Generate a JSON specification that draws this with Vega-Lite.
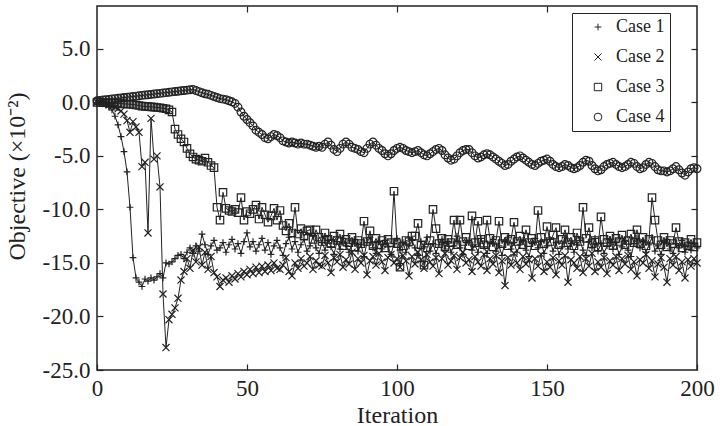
{
"$schema": "https://vega.github.io/schema/vega-lite/v6.json",
"width": 600, "height": 364,
"autosize": {"type": "none"},
"padding": {"left": 97, "top": 6, "right": 23, "bottom": 56},
"background": "white",
"config": {"view": {"stroke": "#222", "strokeWidth": 1.5}, "font": "Liberation Serif"},
"data": {"values": [
{"i":0,"Case 1":0,"Case 2":0,"Case 3":0,"Case 4":0.15},
{"i":1,"Case 1":-0.03,"Case 2":-0.02,"Case 3":0,"Case 4":0.18},
{"i":2,"Case 1":-0.1,"Case 2":-0.05,"Case 3":-0.02,"Case 4":0.22},
{"i":3,"Case 1":-0.25,"Case 2":-0.1,"Case 3":-0.03,"Case 4":0.25},
{"i":4,"Case 1":-0.45,"Case 2":-0.2,"Case 3":-0.05,"Case 4":0.28},
{"i":5,"Case 1":-0.7,"Case 2":-0.3,"Case 3":-0.07,"Case 4":0.31},
{"i":6,"Case 1":-1.3,"Case 2":-0.45,"Case 3":-0.08,"Case 4":0.35},
{"i":7,"Case 1":-2.1,"Case 2":-0.6,"Case 3":-0.1,"Case 4":0.38},
{"i":8,"Case 1":-3.2,"Case 2":-0.8,"Case 3":-0.12,"Case 4":0.41},
{"i":9,"Case 1":-4.6,"Case 2":-1.1,"Case 3":-0.14,"Case 4":0.45},
{"i":10,"Case 1":-6.5,"Case 2":-1.7,"Case 3":-0.16,"Case 4":0.48},
{"i":11,"Case 1":-9.8,"Case 2":-2.8,"Case 3":-0.18,"Case 4":0.51},
{"i":12,"Case 1":-14.5,"Case 2":-1.8,"Case 3":-0.2,"Case 4":0.55},
{"i":13,"Case 1":-16.4,"Case 2":-2.3,"Case 3":-0.25,"Case 4":0.58},
{"i":14,"Case 1":-16.8,"Case 2":-2.8,"Case 3":-0.3,"Case 4":0.61},
{"i":15,"Case 1":-17.2,"Case 2":-6.0,"Case 3":-0.35,"Case 4":0.65},
{"i":16,"Case 1":-16.5,"Case 2":-5.6,"Case 3":-0.38,"Case 4":0.68},
{"i":17,"Case 1":-16.7,"Case 2":-12.2,"Case 3":-0.4,"Case 4":0.71},
{"i":18,"Case 1":-16.4,"Case 2":-1.5,"Case 3":-0.42,"Case 4":0.74},
{"i":19,"Case 1":-16.6,"Case 2":-5.3,"Case 3":-0.45,"Case 4":0.78},
{"i":20,"Case 1":-16.3,"Case 2":-5.0,"Case 3":-0.48,"Case 4":0.81},
{"i":21,"Case 1":-16.0,"Case 2":-7.9,"Case 3":-0.5,"Case 4":0.84},
{"i":22,"Case 1":-16.4,"Case 2":-17.9,"Case 3":-0.55,"Case 4":0.88},
{"i":23,"Case 1":-15.0,"Case 2":-22.9,"Case 3":-0.6,"Case 4":0.91},
{"i":24,"Case 1":-15.1,"Case 2":-20.3,"Case 3":-0.7,"Case 4":0.94},
{"i":25,"Case 1":-14.9,"Case 2":-19.8,"Case 3":-0.9,"Case 4":0.98},
{"i":26,"Case 1":-14.6,"Case 2":-19.2,"Case 3":-2.5,"Case 4":1.01},
{"i":27,"Case 1":-14.3,"Case 2":-18.3,"Case 3":-3.0,"Case 4":1.04},
{"i":28,"Case 1":-14.2,"Case 2":-16.6,"Case 3":-3.4,"Case 4":1.08},
{"i":29,"Case 1":-14.6,"Case 2":-15.8,"Case 3":-3.7,"Case 4":1.11},
{"i":30,"Case 1":-14.0,"Case 2":-14.6,"Case 3":-4.3,"Case 4":1.14},
{"i":31,"Case 1":-13.6,"Case 2":-15.5,"Case 3":-4.8,"Case 4":1.18},
{"i":32,"Case 1":-14.1,"Case 2":-13.8,"Case 3":-5.1,"Case 4":1.21},
{"i":33,"Case 1":-13.4,"Case 2":-14.9,"Case 3":-5.3,"Case 4":1.1},
{"i":34,"Case 1":-13.9,"Case 2":-13.5,"Case 3":-5.4,"Case 4":1.0},
{"i":35,"Case 1":-12.3,"Case 2":-15.2,"Case 3":-5.5,"Case 4":0.9},
{"i":36,"Case 1":-13.3,"Case 2":-14.0,"Case 3":-5.2,"Case 4":0.8},
{"i":37,"Case 1":-14.2,"Case 2":-15.6,"Case 3":-5.6,"Case 4":0.75},
{"i":38,"Case 1":-13.4,"Case 2":-14.4,"Case 3":-5.9,"Case 4":0.65},
{"i":39,"Case 1":-12.9,"Case 2":-15.9,"Case 3":-6.1,"Case 4":0.55},
{"i":40,"Case 1":-13.8,"Case 2":-16.3,"Case 3":-9.8,"Case 4":0.45},
{"i":41,"Case 1":-13.6,"Case 2":-17.2,"Case 3":-11.0,"Case 4":0.35},
{"i":42,"Case 1":-13.1,"Case 2":-16.6,"Case 3":-8.4,"Case 4":0.3},
{"i":43,"Case 1":-14.0,"Case 2":-16.4,"Case 3":-9.9,"Case 4":0.25},
{"i":44,"Case 1":-13.3,"Case 2":-16.8,"Case 3":-10.1,"Case 4":0.15},
{"i":45,"Case 1":-12.8,"Case 2":-16.2,"Case 3":-10.2,"Case 4":0.05},
{"i":46,"Case 1":-13.7,"Case 2":-16.5,"Case 3":-10.0,"Case 4":-0.1},
{"i":47,"Case 1":-13.2,"Case 2":-16.0,"Case 3":-10.3,"Case 4":-0.45},
{"i":48,"Case 1":-14.1,"Case 2":-16.3,"Case 3":-8.9,"Case 4":-0.9},
{"i":49,"Case 1":-13.0,"Case 2":-15.8,"Case 3":-11.0,"Case 4":-1.3},
{"i":50,"Case 1":-12.2,"Case 2":-16.1,"Case 3":-10.2,"Case 4":-1.6},
{"i":51,"Case 1":-13.5,"Case 2":-15.6,"Case 3":-10.4,"Case 4":-1.9},
{"i":52,"Case 1":-13.0,"Case 2":-16.0,"Case 3":-10.0,"Case 4":-2.2},
{"i":53,"Case 1":-13.9,"Case 2":-15.4,"Case 3":-9.6,"Case 4":-2.6},
{"i":54,"Case 1":-13.3,"Case 2":-15.9,"Case 3":-10.9,"Case 4":-2.8},
{"i":55,"Case 1":-12.7,"Case 2":-15.3,"Case 3":-9.8,"Case 4":-3.0},
{"i":56,"Case 1":-13.8,"Case 2":-15.8,"Case 3":-10.5,"Case 4":-3.3},
{"i":57,"Case 1":-13.1,"Case 2":-15.2,"Case 3":-11.2,"Case 4":-3.4},
{"i":58,"Case 1":-14.2,"Case 2":-15.7,"Case 3":-10.6,"Case 4":-3.2},
{"i":59,"Case 1":-13.4,"Case 2":-15.0,"Case 3":-9.9,"Case 4":-3.0},
{"i":60,"Case 1":-12.9,"Case 2":-15.5,"Case 3":-11.0,"Case 4":-3.1},
{"i":61,"Case 1":-13.6,"Case 2":-15.6,"Case 3":-10.1,"Case 4":-3.3},
{"i":62,"Case 1":-14.3,"Case 2":-15.2,"Case 3":-11.5,"Case 4":-3.6},
{"i":63,"Case 1":-13.2,"Case 2":-14.5,"Case 3":-12.0,"Case 4":-3.7},
{"i":64,"Case 1":-12.6,"Case 2":-15.8,"Case 3":-11.3,"Case 4":-3.8},
{"i":65,"Case 1":-13.7,"Case 2":-16.2,"Case 3":-12.2,"Case 4":-3.7},
{"i":66,"Case 1":-13.0,"Case 2":-15.0,"Case 3":-9.8,"Case 4":-3.8},
{"i":67,"Case 1":-14.0,"Case 2":-15.5,"Case 3":-12.3,"Case 4":-3.9},
{"i":68,"Case 1":-13.3,"Case 2":-14.6,"Case 3":-11.8,"Case 4":-3.8},
{"i":69,"Case 1":-12.8,"Case 2":-15.3,"Case 3":-12.5,"Case 4":-3.9},
{"i":70,"Case 1":-13.9,"Case 2":-15.0,"Case 3":-12.0,"Case 4":-3.9},
{"i":71,"Case 1":-13.4,"Case 2":-14.4,"Case 3":-11.9,"Case 4":-4.0},
{"i":72,"Case 1":-12.5,"Case 2":-15.6,"Case 3":-12.8,"Case 4":-4.1},
{"i":73,"Case 1":-13.6,"Case 2":-14.8,"Case 3":-11.9,"Case 4":-4.2},
{"i":74,"Case 1":-14.1,"Case 2":-15.2,"Case 3":-12.6,"Case 4":-4.1},
{"i":75,"Case 1":-13.1,"Case 2":-15.3,"Case 3":-13.0,"Case 4":-4.2},
{"i":76,"Case 1":-13.8,"Case 2":-14.3,"Case 3":-12.2,"Case 4":-3.9},
{"i":77,"Case 1":-12.9,"Case 2":-15.0,"Case 3":-12.8,"Case 4":-3.7},
{"i":78,"Case 1":-13.5,"Case 2":-15.9,"Case 3":-13.2,"Case 4":-4.0},
{"i":79,"Case 1":-14.2,"Case 2":-14.5,"Case 3":-12.5,"Case 4":-4.4},
{"i":80,"Case 1":-13.0,"Case 2":-14.9,"Case 3":-12.9,"Case 4":-4.6},
{"i":81,"Case 1":-13.7,"Case 2":-14.2,"Case 3":-12.3,"Case 4":-4.3},
{"i":82,"Case 1":-12.7,"Case 2":-15.4,"Case 3":-13.4,"Case 4":-3.9},
{"i":83,"Case 1":-13.4,"Case 2":-14.7,"Case 3":-12.8,"Case 4":-3.7},
{"i":84,"Case 1":-14.0,"Case 2":-15.1,"Case 3":-13.1,"Case 4":-3.9},
{"i":85,"Case 1":-13.2,"Case 2":-14.0,"Case 3":-12.6,"Case 4":-4.2},
{"i":86,"Case 1":-12.8,"Case 2":-15.6,"Case 3":-13.5,"Case 4":-4.3},
{"i":87,"Case 1":-13.9,"Case 2":-14.6,"Case 3":-12.9,"Case 4":-4.4},
{"i":88,"Case 1":-13.3,"Case 2":-15.0,"Case 3":-13.2,"Case 4":-4.6},
{"i":89,"Case 1":-14.4,"Case 2":-14.3,"Case 3":-11.1,"Case 4":-4.7},
{"i":90,"Case 1":-13.1,"Case 2":-16.1,"Case 3":-13.0,"Case 4":-4.3},
{"i":91,"Case 1":-12.6,"Case 2":-14.8,"Case 3":-12.0,"Case 4":-3.9},
{"i":92,"Case 1":-13.6,"Case 2":-14.4,"Case 3":-13.4,"Case 4":-3.7},
{"i":93,"Case 1":-14.1,"Case 2":-15.2,"Case 3":-12.7,"Case 4":-4.0},
{"i":94,"Case 1":-13.0,"Case 2":-14.1,"Case 3":-13.3,"Case 4":-4.3},
{"i":95,"Case 1":-13.7,"Case 2":-14.9,"Case 3":-12.9,"Case 4":-4.5},
{"i":96,"Case 1":-12.9,"Case 2":-15.7,"Case 3":-13.6,"Case 4":-4.8},
{"i":97,"Case 1":-13.5,"Case 2":-14.5,"Case 3":-12.8,"Case 4":-5.0},
{"i":98,"Case 1":-14.2,"Case 2":-14.2,"Case 3":-13.1,"Case 4":-4.8},
{"i":99,"Case 1":-13.2,"Case 2":-15.0,"Case 3":-8.3,"Case 4":-4.5},
{"i":100,"Case 1":-12.7,"Case 2":-14.6,"Case 3":-13.2,"Case 4":-4.3},
{"i":101,"Case 1":-13.8,"Case 2":-15.4,"Case 3":-15.4,"Case 4":-4.2},
{"i":102,"Case 1":-13.1,"Case 2":-14.3,"Case 3":-13.4,"Case 4":-4.3},
{"i":103,"Case 1":-14.0,"Case 2":-14.8,"Case 3":-12.9,"Case 4":-4.5},
{"i":104,"Case 1":-13.4,"Case 2":-16.2,"Case 3":-13.0,"Case 4":-4.6},
{"i":105,"Case 1":-12.9,"Case 2":-14.4,"Case 3":-12.5,"Case 4":-4.7},
{"i":106,"Case 1":-13.6,"Case 2":-15.1,"Case 3":-12.5,"Case 4":-4.6},
{"i":107,"Case 1":-14.3,"Case 2":-14.0,"Case 3":-11.3,"Case 4":-4.5},
{"i":108,"Case 1":-13.0,"Case 2":-14.7,"Case 3":-13.3,"Case 4":-4.7},
{"i":109,"Case 1":-13.5,"Case 2":-15.5,"Case 3":-15.2,"Case 4":-4.9},
{"i":110,"Case 1":-12.6,"Case 2":-14.2,"Case 3":-13.6,"Case 4":-5.0},
{"i":111,"Case 1":-13.9,"Case 2":-14.9,"Case 3":-12.9,"Case 4":-4.8},
{"i":112,"Case 1":-13.2,"Case 2":-15.3,"Case 3":-10.0,"Case 4":-4.6},
{"i":113,"Case 1":-14.1,"Case 2":-14.5,"Case 3":-11.8,"Case 4":-4.4},
{"i":114,"Case 1":-13.3,"Case 2":-16.0,"Case 3":-13.2,"Case 4":-4.3},
{"i":115,"Case 1":-12.8,"Case 2":-14.6,"Case 3":-12.7,"Case 4":-4.5},
{"i":116,"Case 1":-13.7,"Case 2":-14.1,"Case 3":-13.5,"Case 4":-4.9},
{"i":117,"Case 1":-13.0,"Case 2":-15.2,"Case 3":-12.8,"Case 4":-5.2},
{"i":118,"Case 1":-14.0,"Case 2":-14.8,"Case 3":-13.1,"Case 4":-5.4},
{"i":119,"Case 1":-13.4,"Case 2":-14.3,"Case 3":-11.0,"Case 4":-5.3},
{"i":120,"Case 1":-12.5,"Case 2":-15.6,"Case 3":-13.3,"Case 4":-5.0},
{"i":121,"Case 1":-13.6,"Case 2":-14.5,"Case 3":-11.0,"Case 4":-4.7},
{"i":122,"Case 1":-14.2,"Case 2":-14.0,"Case 3":-13.0,"Case 4":-4.5},
{"i":123,"Case 1":-13.1,"Case 2":-15.0,"Case 3":-12.6,"Case 4":-4.4},
{"i":124,"Case 1":-12.9,"Case 2":-14.7,"Case 3":-13.4,"Case 4":-4.4},
{"i":125,"Case 1":-13.8,"Case 2":-15.8,"Case 3":-10.6,"Case 4":-4.7},
{"i":126,"Case 1":-13.3,"Case 2":-14.4,"Case 3":-13.1,"Case 4":-5.0},
{"i":127,"Case 1":-14.0,"Case 2":-14.9,"Case 3":-11.1,"Case 4":-5.2},
{"i":128,"Case 1":-12.7,"Case 2":-15.3,"Case 3":-12.8,"Case 4":-5.1},
{"i":129,"Case 1":-13.5,"Case 2":-14.2,"Case 3":-13.3,"Case 4":-4.9},
{"i":130,"Case 1":-14.1,"Case 2":-15.7,"Case 3":-11.0,"Case 4":-4.8},
{"i":131,"Case 1":-13.2,"Case 2":-14.6,"Case 3":-12.7,"Case 4":-4.9},
{"i":132,"Case 1":-12.8,"Case 2":-15.1,"Case 3":-13.5,"Case 4":-5.1},
{"i":133,"Case 1":-13.9,"Case 2":-14.3,"Case 3":-12.9,"Case 4":-5.3},
{"i":134,"Case 1":-13.4,"Case 2":-15.9,"Case 3":-11.1,"Case 4":-5.5},
{"i":135,"Case 1":-14.3,"Case 2":-14.8,"Case 3":-13.2,"Case 4":-5.7},
{"i":136,"Case 1":-13.0,"Case 2":-17.1,"Case 3":-12.6,"Case 4":-5.9},
{"i":137,"Case 1":-12.6,"Case 2":-14.5,"Case 3":-13.4,"Case 4":-5.8},
{"i":138,"Case 1":-13.7,"Case 2":-15.2,"Case 3":-12.8,"Case 4":-5.5},
{"i":139,"Case 1":-13.1,"Case 2":-14.1,"Case 3":-11.2,"Case 4":-5.3},
{"i":140,"Case 1":-14.0,"Case 2":-15.0,"Case 3":-13.0,"Case 4":-5.1},
{"i":141,"Case 1":-13.3,"Case 2":-15.6,"Case 3":-12.5,"Case 4":-5.0},
{"i":142,"Case 1":-12.9,"Case 2":-14.4,"Case 3":-13.3,"Case 4":-5.2},
{"i":143,"Case 1":-13.8,"Case 2":-15.1,"Case 3":-11.9,"Case 4":-5.4},
{"i":144,"Case 1":-14.4,"Case 2":-14.7,"Case 3":-13.1,"Case 4":-5.6},
{"i":145,"Case 1":-13.2,"Case 2":-16.4,"Case 3":-12.7,"Case 4":-5.8},
{"i":146,"Case 1":-12.7,"Case 2":-14.6,"Case 3":-13.4,"Case 4":-5.9},
{"i":147,"Case 1":-13.6,"Case 2":-15.3,"Case 3":-10.1,"Case 4":-5.7},
{"i":148,"Case 1":-13.0,"Case 2":-14.2,"Case 3":-12.6,"Case 4":-5.5},
{"i":149,"Case 1":-14.1,"Case 2":-15.8,"Case 3":-13.2,"Case 4":-5.4},
{"i":150,"Case 1":-13.4,"Case 2":-14.9,"Case 3":-11.6,"Case 4":-5.3},
{"i":151,"Case 1":-12.8,"Case 2":-15.4,"Case 3":-13.0,"Case 4":-5.5},
{"i":152,"Case 1":-13.9,"Case 2":-14.5,"Case 3":-12.4,"Case 4":-5.8},
{"i":153,"Case 1":-13.1,"Case 2":-16.1,"Case 3":-11.7,"Case 4":-6.0},
{"i":154,"Case 1":-14.2,"Case 2":-14.8,"Case 3":-13.3,"Case 4":-6.1},
{"i":155,"Case 1":-13.5,"Case 2":-15.2,"Case 3":-12.8,"Case 4":-6.0},
{"i":156,"Case 1":-12.6,"Case 2":-14.3,"Case 3":-11.9,"Case 4":-5.8},
{"i":157,"Case 1":-13.7,"Case 2":-16.8,"Case 3":-13.1,"Case 4":-5.9},
{"i":158,"Case 1":-13.2,"Case 2":-14.7,"Case 3":-12.6,"Case 4":-6.1},
{"i":159,"Case 1":-14.0,"Case 2":-15.0,"Case 3":-13.4,"Case 4":-6.2},
{"i":160,"Case 1":-13.3,"Case 2":-15.5,"Case 3":-12.2,"Case 4":-6.1},
{"i":161,"Case 1":-12.9,"Case 2":-14.4,"Case 3":-13.0,"Case 4":-5.9},
{"i":162,"Case 1":-13.8,"Case 2":-15.9,"Case 3":-9.8,"Case 4":-5.6},
{"i":163,"Case 1":-14.3,"Case 2":-14.6,"Case 3":-12.7,"Case 4":-5.4},
{"i":164,"Case 1":-13.0,"Case 2":-15.3,"Case 3":-11.7,"Case 4":-5.5},
{"i":165,"Case 1":-13.6,"Case 2":-14.1,"Case 3":-13.2,"Case 4":-5.9},
{"i":166,"Case 1":-12.7,"Case 2":-15.8,"Case 3":-12.9,"Case 4":-6.2},
{"i":167,"Case 1":-13.9,"Case 2":-14.9,"Case 3":-13.5,"Case 4":-6.4},
{"i":168,"Case 1":-13.2,"Case 2":-15.4,"Case 3":-10.7,"Case 4":-6.3},
{"i":169,"Case 1":-14.1,"Case 2":-14.5,"Case 3":-12.8,"Case 4":-6.0},
{"i":170,"Case 1":-13.4,"Case 2":-16.0,"Case 3":-13.1,"Case 4":-5.8},
{"i":171,"Case 1":-12.8,"Case 2":-14.8,"Case 3":-12.5,"Case 4":-5.7},
{"i":172,"Case 1":-13.7,"Case 2":-15.2,"Case 3":-13.4,"Case 4":-5.6},
{"i":173,"Case 1":-13.1,"Case 2":-14.4,"Case 3":-12.7,"Case 4":-5.8},
{"i":174,"Case 1":-14.2,"Case 2":-15.7,"Case 3":-13.0,"Case 4":-6.0},
{"i":175,"Case 1":-13.5,"Case 2":-14.6,"Case 3":-12.4,"Case 4":-6.1},
{"i":176,"Case 1":-12.9,"Case 2":-15.1,"Case 3":-13.3,"Case 4":-6.0},
{"i":177,"Case 1":-13.8,"Case 2":-14.3,"Case 3":-12.9,"Case 4":-5.8},
{"i":178,"Case 1":-14.4,"Case 2":-15.6,"Case 3":-12.3,"Case 4":-5.6},
{"i":179,"Case 1":-13.2,"Case 2":-14.9,"Case 3":-13.1,"Case 4":-5.7},
{"i":180,"Case 1":-12.7,"Case 2":-16.2,"Case 3":-11.9,"Case 4":-6.0},
{"i":181,"Case 1":-13.6,"Case 2":-14.7,"Case 3":-13.2,"Case 4":-6.2},
{"i":182,"Case 1":-13.0,"Case 2":-15.0,"Case 3":-12.6,"Case 4":-6.1},
{"i":183,"Case 1":-14.0,"Case 2":-14.2,"Case 3":-13.4,"Case 4":-5.8},
{"i":184,"Case 1":-13.3,"Case 2":-15.5,"Case 3":-12.8,"Case 4":-5.6},
{"i":185,"Case 1":-12.6,"Case 2":-14.8,"Case 3":-8.9,"Case 4":-5.7},
{"i":186,"Case 1":-13.9,"Case 2":-16.3,"Case 3":-11.0,"Case 4":-6.0},
{"i":187,"Case 1":-13.4,"Case 2":-15.1,"Case 3":-12.9,"Case 4":-6.3},
{"i":188,"Case 1":-14.2,"Case 2":-14.5,"Case 3":-13.3,"Case 4":-6.4},
{"i":189,"Case 1":-13.1,"Case 2":-15.4,"Case 3":-12.6,"Case 4":-6.4},
{"i":190,"Case 1":-12.8,"Case 2":-16.8,"Case 3":-13.5,"Case 4":-6.5},
{"i":191,"Case 1":-13.7,"Case 2":-14.6,"Case 3":-12.9,"Case 4":-6.4},
{"i":192,"Case 1":-14.1,"Case 2":-15.2,"Case 3":-13.2,"Case 4":-6.2},
{"i":193,"Case 1":-13.2,"Case 2":-14.4,"Case 3":-11.7,"Case 4":-6.0},
{"i":194,"Case 1":-13.6,"Case 2":-15.7,"Case 3":-13.0,"Case 4":-6.3},
{"i":195,"Case 1":-12.9,"Case 2":-14.9,"Case 3":-13.6,"Case 4":-6.6},
{"i":196,"Case 1":-14.0,"Case 2":-16.4,"Case 3":-13.1,"Case 4":-6.8},
{"i":197,"Case 1":-13.4,"Case 2":-14.7,"Case 3":-13.4,"Case 4":-6.5},
{"i":198,"Case 1":-13.8,"Case 2":-15.3,"Case 3":-12.8,"Case 4":-6.2},
{"i":199,"Case 1":-13.2,"Case 2":-14.6,"Case 3":-13.5,"Case 4":-6.1},
{"i":200,"Case 1":-13.6,"Case 2":-15.0,"Case 3":-13.1,"Case 4":-6.2}
]},
"transform": [{"fold": ["Case 1", "Case 2", "Case 3", "Case 4"], "as": ["series", "value"]}],
"layer": [
{
"mark": {"type": "line", "stroke": "#222", "strokeWidth": 1},
"encoding": {
"x": {"field": "i", "type": "quantitative", "scale": {"domain": [0, 200], "nice": false},
 "axis": {"orient": "bottom", "values": [0, 50, 100, 150, 200], "domain": false, "grid": false, "tickSize": -6, "tickColor": "#222", "tickWidth": 1.2, "labelFont": "Liberation Serif", "labelFontSize": 23, "labelColor": "#222", "labelPadding": 13, "labelFlush": false, "labelOverlap": false, "title": "Iteration", "titleFont": "Liberation Serif", "titleFontSize": 24, "titleFontWeight": "normal", "titleColor": "#222", "titlePadding": 3}},
"y": {"field": "value", "type": "quantitative", "scale": {"domain": [-25, 9], "nice": false, "zero": false},
 "axis": {"orient": "left", "values": [-25, -20, -15, -10, -5, 0, 5], "labelExpr": "(datum.value < 0 ? '-' : '') + format(abs(datum.value), '.1f')", "domain": false, "grid": false, "tickSize": -6, "tickColor": "#222", "tickWidth": 1.2, "labelFont": "Liberation Serif", "labelFontSize": 23, "labelColor": "#222", "labelPadding": 13, "labelOverlap": false, "title": "Objective (×10⁻²)", "titleFont": "Liberation Serif", "titleFontSize": 24, "titleFontWeight": "normal", "titleColor": "#222", "titleAngle": 270, "titleBaseline": "alphabetic", "titleX": -73, "titleY": 170}},
"detail": {"field": "series"}
}
},
{
"mark": {"type": "point", "filled": false, "stroke": "#222", "strokeWidth": 1.2, "opacity": 1},
"encoding": {
"x": {"field": "i", "type": "quantitative", "scale": {"domain": [0, 200], "nice": false},
 "axis": {"orient": "top", "values": [50, 100, 150], "domain": false, "grid": false, "labels": false, "tickSize": -6, "tickColor": "#222", "tickWidth": 1.2, "title": null}},
"y": {"field": "value", "type": "quantitative", "scale": {"domain": [-25, 9], "nice": false, "zero": false},
 "axis": {"orient": "right", "values": [-20, -15, -10, -5, 0, 5], "domain": false, "grid": false, "labels": false, "tickSize": -6, "tickColor": "#222", "tickWidth": 1.2, "title": null}},
"shape": {"field": "series", "type": "nominal",
 "scale": {"domain": ["Case 1", "Case 2", "Case 3", "Case 4"], "range": ["M-1,0L1,0M0,-1L0,1", "M-1,-1L1,1M-1,1L1,-1", "square", "circle"]},
 "legend": {"title": null, "orient": "none", "legendX": 475, "legendY": 7, "strokeColor": "#222", "fillColor": "white", "padding": 5, "labelFont": "Liberation Serif", "labelFontSize": 18, "labelColor": "#222", "rowPadding": 12, "symbolOffset": 12, "labelOffset": 9, "symbolStrokeColor": "#222", "symbolStrokeWidth": 1, "symbolFillColor": "white", "labelExpr": "datum.label + '          '"}},
"size": {"field": "series", "type": "nominal",
 "scale": {"domain": ["Case 1", "Case 2", "Case 3", "Case 4"], "range": [45, 60, 42, 38]}}
}
}
],
"resolve": {"axis": {"x": "independent", "y": "independent"}}
}
